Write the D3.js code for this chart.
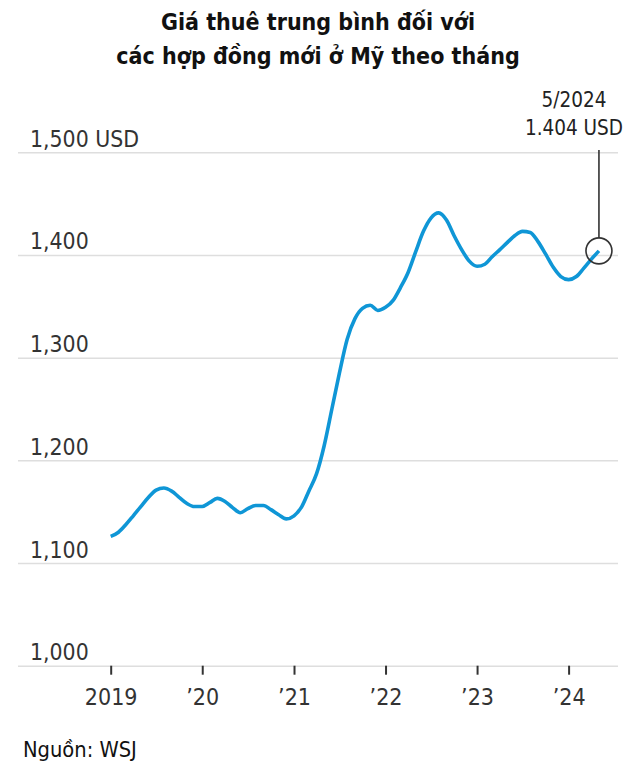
<!DOCTYPE html>
<html>
<head>
<meta charset="utf-8">
<script src="https://cdn.jsdelivr.net/npm/d3@7"></script>
<style>
  html, body { margin: 0; padding: 0; background: #fff; }
  svg { display: block; }
  text { font-family: "Liberation Sans Narrow", "DejaVu Sans Condensed", "Noto Sans", sans-serif; }
</style>
</head>
<body>
<svg id="chart" width="630" height="780"></svg>
<script>
// ---- Data (monthly, Jan 2019 – May 2024), USD ----
const startYear = 2019;
const rents = [
  1126, 1130, 1137, 1146, 1155, 1164, 1171, 1173, 1170, 1164, 1158, 1155,   // 2019
  1155, 1159, 1163, 1160, 1154, 1149, 1153, 1156, 1156, 1152, 1147, 1143,   // 2020
  1146, 1155, 1170, 1187, 1214, 1250, 1285, 1318, 1338, 1348, 1351, 1346,   // 2021
  1349, 1356, 1368, 1383, 1403, 1423, 1436, 1441, 1434, 1419, 1405, 1394,   // 2022
  1389, 1391, 1398, 1405, 1412, 1419, 1423, 1422, 1413, 1401, 1388, 1379,   // 2023
  1376, 1379, 1387, 1396, 1404                                              // 2024
];
const yTicks = [1000, 1100, 1200, 1300, 1400, 1500];
const xTickYears = [2019, 2020, 2021, 2022, 2023, 2024];
const xTickLabels = ["2019", "\u201920", "\u201921", "\u201922", "\u201923", "\u201924"];
const titleLines = ["Giá thuê trung bình đối với", "các hợp đồng mới ở Mỹ theo tháng"];
const annotationLines = ["5/2024", "1.404 USD"];
const sourceText = "Nguồn: WSJ";

const series = rents.map((v, i) => ({ date: new Date(startYear, i, 1), value: v }));

const svg = d3.select("#chart");

const x = d3.scaleTime()
  .domain([new Date(2019, 0, 1), new Date(2024, 0, 1)])
  .range([110.7, 568.6]);
const y = d3.scaleLinear()
  .domain([1000, 1500])
  .range([665.7, 152.3]);

const gridLeft = 18, gridRight = 618;

// Title
svg.append("g").selectAll("text")
  .data(titleLines)
  .join("text")
  .attr("x", 318)
  .attr("y", (d, i) => 29.5 + i * 34)
  .attr("text-anchor", "middle")
  .attr("font-size", 23)
  .attr("font-weight", "bold")
  .attr("fill", "#111")
  .text(d => d);

// Grid lines + y labels
const yAxis = d3.axisRight(y)
  .tickValues(yTicks)
  .tickSize(gridRight - gridLeft)
  .tickFormat(d => d3.format(",")(d) + (d === 1500 ? " USD" : ""));
const gy = svg.append("g")
  .attr("transform", `translate(${gridLeft},0)`)
  .call(yAxis);
gy.select(".domain").remove();
gy.selectAll(".tick line").attr("stroke", "#dedede").attr("stroke-width", 1.5);
gy.selectAll(".tick text")
  .attr("x", 12)
  .attr("dy", -6)
  .attr("font-size", 22.8)
  .attr("fill", "#333")
  .attr("text-anchor", "start");

// X axis ticks and labels
const xAxis = d3.axisBottom(x)
  .tickValues(xTickYears.map(yr => new Date(yr, 0, 1)))
  .tickSize(9)
  .tickFormat((d, i) => xTickLabels[i]);
const gx = svg.append("g")
  .attr("transform", `translate(0,${y(1000)})`)
  .call(xAxis);
gx.select(".domain").remove();
gx.selectAll(".tick line").attr("stroke", "#333").attr("stroke-width", 2);
gx.selectAll(".tick text")
  .attr("y", 0)
  .attr("dy", 39.5)
  .attr("font-size", 23)
  .attr("fill", "#333");

// Line
const line = d3.line()
  .x(d => x(d.date))
  .y(d => y(d.value))
  .curve(d3.curveMonotoneX);
svg.append("path")
  .datum(series)
  .attr("fill", "none")
  .attr("stroke", "#0f96d6")
  .attr("stroke-width", 3.6)
  .attr("stroke-linejoin", "round")
  .attr("stroke-linecap", "butt")
  .attr("d", line);

// Annotation
const last = series[series.length - 1];
const cx = x(last.date), cy = y(last.value), r = 13;
svg.append("line")
  .attr("x1", cx).attr("x2", cx)
  .attr("y1", 150).attr("y2", cy - r)
  .attr("stroke", "#333").attr("stroke-width", 1.6);
svg.append("circle")
  .attr("cx", cx).attr("cy", cy).attr("r", r)
  .attr("fill", "none").attr("stroke", "#333").attr("stroke-width", 1.6);
svg.append("g").selectAll("text")
  .data(annotationLines)
  .join("text")
  .attr("x", 574)
  .attr("y", (d, i) => 107 + i * 28)
  .attr("text-anchor", "middle")
  .attr("font-size", 20.5)
  .attr("fill", "#222")
  .text(d => d);

// Source
svg.append("text")
  .attr("x", 23)
  .attr("y", 757)
  .attr("font-size", 21.7)
  .attr("fill", "#111")
  .text(sourceText);
</script>
</body>
</html>
